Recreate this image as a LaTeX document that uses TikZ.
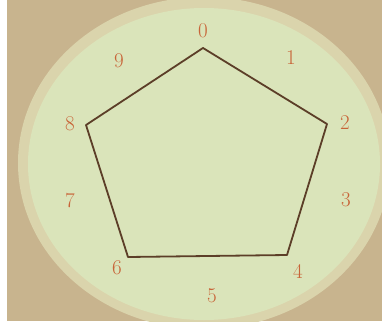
\documentclass[tikz,border=0pt]{standalone}
\usepackage{tikz}
\definecolor{dialtan}{RGB}{200,180,142}
\definecolor{dialring}{RGB}{218,212,172}
\definecolor{dialgreen}{RGB}{218,228,186}
\definecolor{dialnum}{RGB}{200,100,56}
\definecolor{dialline}{RGB}{92,62,40}

\begin{document}
\begin{tikzpicture}[x=1pt,y=-1pt,
  digit/.style={dialnum,font=\fontsize{21}{21}\selectfont}]
  \useasboundingbox (0,0) rectangle (382,324);
  \fill[white] (0,0) rectangle (382,324);
  \fill[dialtan] (7,0) rectangle (382,321);
  \begin{scope}
    \clip (7,0) rectangle (382,321);
    \fill[dialring] (204,163) ellipse (186 and 166);
    \fill[dialgreen] (204,164) ellipse (176 and 156);
  \end{scope}
  % vertices of the pentagon
  \coordinate (v0) at (203,48);
  \coordinate (v2) at (327,124);
  \coordinate (v4) at (287,255);
  \coordinate (v6) at (128,257);
  \coordinate (v8) at (86,125);
  \draw[dialline,line width=1.8pt,line join=round] (v0) -- (v2) -- (v4) -- (v6) -- (v8) -- cycle;
  % the ten digits
  \node[digit] (n0) at (203,31) {0};
  \node[digit] (n1) at (291,58) {1};
  \node[digit] (n2) at (345,123) {2};
  \node[digit] (n3) at (346,200) {3};
  \node[digit] (n4) at (298,271) {4};
  \node[digit] (n5) at (212,296) {5};
  \node[digit] (n6) at (117,268) {6};
  \node[digit] (n7) at (70,201) {7};
  \node[digit] (n8) at (70,124) {8};
  \node[digit] (n9) at (119,61) {9};
\end{tikzpicture}
\end{document}
